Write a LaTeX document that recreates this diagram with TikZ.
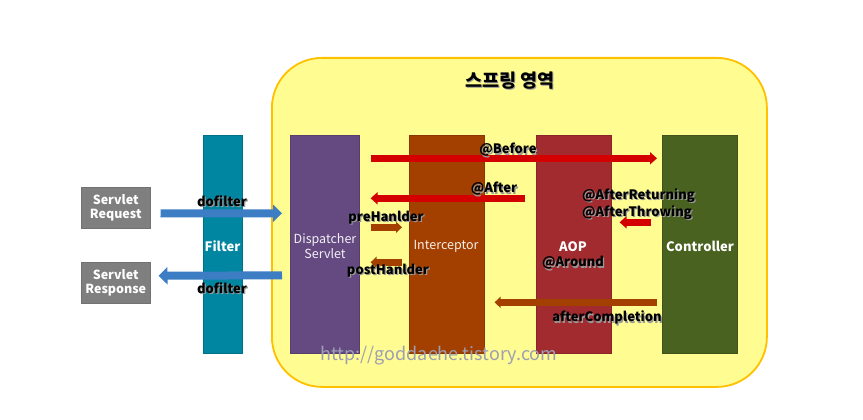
\documentclass[tikz,border=0pt]{standalone}
\usepackage{fontspec}
\setmainfont{Noto Sans CJK KR}
\usetikzlibrary{arrows.meta,calc}
\definecolor{springyellow}{RGB}{255,252,145}
\definecolor{springborder}{RGB}{255,192,0}
\definecolor{filtercol}{RGB}{0,134,160}
\definecolor{dispcol}{RGB}{100,74,128}
\definecolor{intcol}{RGB}{163,64,0}
\definecolor{aopcol}{RGB}{162,43,48}
\definecolor{ctrlcol}{RGB}{74,98,32}
\definecolor{graybox}{RGB}{127,127,127}
\definecolor{bluearr}{RGB}{61,125,196}
\definecolor{redarr}{RGB}{212,0,0}
\definecolor{brownarr}{RGB}{163,64,0}
\definecolor{wmark}{RGB}{158,158,180}
\newcommand\shtxt[1]{\rlap{\kern1.2pt\raisebox{-1.2pt}{\textcolor{black!40}{#1}}}#1}
\begin{document}
\begin{tikzpicture}[x=1pt,y=-1pt,
  column/.style={draw=#1!85!black, line width=0.6pt, fill=#1, anchor=north west, minimum height=218pt, inner sep=0pt},
  greybox/.style={fill=graybox, draw=graybox!90!black, line width=0.5pt, anchor=north west, minimum width=69pt, minimum height=41pt, inner sep=0pt, text=white, font=\bfseries\fontsize{12.5}{14}\selectfont, align=center},
  whitelabel/.style={text=white, font=\bfseries\fontsize{13}{15}\selectfont, inner sep=0pt},
  blacklabel/.style={text=black, font=\bfseries\fontsize{13}{15.5}\selectfont, inner sep=0pt},
  bluearrow/.style={draw=bluearr, line width=8pt, -{Triangle[length=9pt,width=17pt]}},
  redarrow/.style={draw=redarr, line width=7pt, -{Triangle[length=7pt,width=12pt]}},
  brownarrow/.style={draw=brownarr, line width=6.5pt, -{Triangle[length=6pt,width=11pt]}},
]
\useasboundingbox (0,0) rectangle (863,420);
\fill[white] (0,0) rectangle (863,420);
% spring area
\node[draw=springborder, line width=1.8pt, fill=springyellow, rounded corners=50pt, anchor=north west, minimum width=495pt, minimum height=329pt, inner sep=0pt] (spring) at (271,57) {};
\node[blacklabel, font=\bfseries\fontsize{18.5}{20}\selectfont] (title) at (510,81) {\shtxt{스프링 영역}};
% columns
\node[column=filtercol, minimum width=39pt] (filter) at (203,135) {};
\node[column=dispcol, minimum width=69pt] (disp) at (290,135) {};
\node[column=intcol, minimum width=75pt] (int) at (409,135) {};
\node[column=aopcol, minimum width=75pt] (aop) at (536,135) {};
\node[column=ctrlcol, minimum width=75pt] (ctrl) at (662,135) {};
% servlet boxes
\node[greybox] (req) at (81,187) {Servlet\\Request};
\node[greybox] (resp) at (81,262) {Servlet\\Response};
% column labels
\node[whitelabel] (filterlbl) at (222.5,246) {Filter};
\node[text=white!92!dispcol, font=\fontsize{12.5}{15}\selectfont, align=center, inner sep=0pt] (displbl) at (325,246) {Dispatcher\\Servlet};
\node[text=white!92!intcol, font=\fontsize{12.5}{14}\selectfont, inner sep=0pt] (intlbl) at (446,246) {Interceptor};
\node[whitelabel] (aoplbl) at (573,247) {AOP};
\node[blacklabel] (aroundlbl) at (573,263.5) {\shtxt{@Around}};
\node[whitelabel] (ctrllbl) at (700,246) {Controller};
% blue arrows
\draw[bluearrow] ($(req.east)+(10,5.5)$) -- ($(disp.west)+(-8,-31)$);
\draw[bluearrow] ($(disp.west)+(-8,31)$) -- ($(resp.east)+(8,-7)$);
\node[blacklabel] (dof1) at (222,201.5) {\shtxt{dofilter}};
\node[blacklabel] (dof2) at (222,288.5) {\shtxt{dofilter}};
% red arrows
\draw[redarrow] ($(disp.east)+(11,-86)$) -- ($(ctrl.west)+(-5,-86)$);
\draw[redarrow] ($(aop.west)+(-11,-46)$) -- ($(disp.east)+(11,-46)$);
\draw[redarrow] ($(ctrl.west)+(-11,-22)$) -- ($(aop.east)+(8,-22)$);
\node[blacklabel] (before) at (508,150.5) {\shtxt{@Before}};
\node[blacklabel] (after) at (494,189.5) {\shtxt{@After}};
\node[blacklabel, anchor=west] (aret) at (582,196.5) {\shtxt{@AfterReturning}};
\node[blacklabel, anchor=west] (athr) at (582,213.5) {\shtxt{@AfterThrowing}};
% brown arrows
\draw[brownarrow] ($(disp.east)+(11,-17)$) -- ($(int.west)+(-7,-17)$);
\draw[brownarrow] ($(int.west)+(-7,18)$) -- ($(disp.east)+(11,18)$);
\draw[brownarrow] ($(ctrl.west)+(-5,58)$) -- ($(int.east)+(10,58)$);
\node[blacklabel] (pre) at (386,218.5) {\shtxt{preHanlder}};
\node[blacklabel] (post) at (388,271.5) {\shtxt{postHanlder}};
\node[blacklabel] (afc) at (607,318.5) {\shtxt{afterCompletion}};
% watermark
\node[text=wmark, font=\fontsize{18}{20}\selectfont, inner sep=0pt] (wm) at (439,356) {http://goddaehe.tistory.com};
\end{tikzpicture}
\end{document}
